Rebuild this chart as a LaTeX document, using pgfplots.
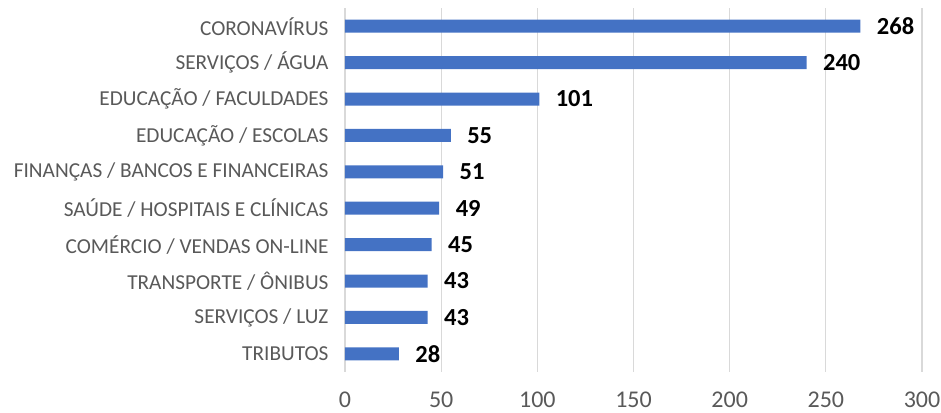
\documentclass[border=0pt]{standalone}
\usepackage{pgfplots}
\pgfplotsset{compat=1.18}
\usepackage{fontspec}
\setmainfont{Carlito}
\definecolor{barblue}{HTML}{4472C4}
\definecolor{gridgray}{HTML}{D9D9D9}
\definecolor{labgray}{HTML}{595959}
\begin{document}
\begin{tikzpicture}
\path[use as bounding box] (-345pt,-40pt) rectangle (596pt,372pt);
\begin{axis}[
  at={(0pt,0pt)}, anchor=south west,
  scale only axis,
  width=577pt, height=364pt,
  xbar, bar width=13pt,
  xmin=0, xmax=300,
  ymin=-0.5, ymax=9.5,
  y dir=reverse,
  axis line style={draw=none},
  xmajorgrids, grid style={gridgray, line width=1.3pt},
  xtick={0,50,...,300},
  ytick={0,...,9},
  yticklabels={CORONAVÍRUS,SERVIÇOS / ÁGUA,EDUCAÇÃO / FACULDADES,EDUCAÇÃO / ESCOLAS,FINANÇAS / BANCOS E FINANCEIRAS,SAÚDE / HOSPITAIS E CLÍNICAS,COMÉRCIO / VENDAS ON-LINE,TRANSPORTE / ÔNIBUS,SERVIÇOS / LUZ,TRIBUTOS},
  yticklabel style={font=\fontsize{21.3}{23}\selectfont, text=labgray, xshift=-13pt},
  xticklabel style={font=\fontsize{24}{26}\selectfont, text=labgray, yshift=-16.5pt},
  /pgf/number format/assume math mode=true,
  major tick length=0pt,
  nodes near coords,
  every node near coord/.append style={font=\fontsize{24.5}{26}\selectfont\bfseries, text=black, xshift=13pt},
  clip=false,
]
\addplot[fill=barblue, draw=none] coordinates {
 (268,0) (240,1) (101,2) (55,3) (51,4) (49,5) (45,6) (43,7) (43,8) (28,9)
};
\end{axis}
\end{tikzpicture}
\end{document}
